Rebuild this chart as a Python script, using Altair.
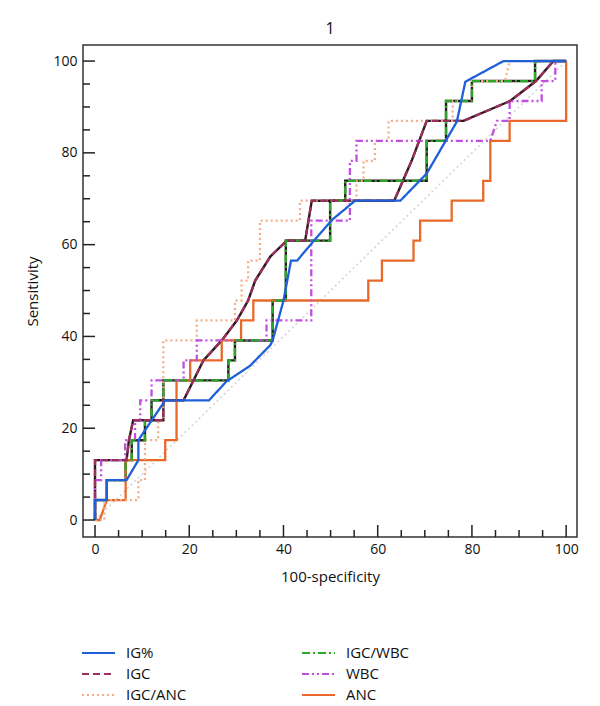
import altair as alt
import pandas as pd

# ---- data (percent) ----
series_names = ["IG%", "IGC", "IGC/ANC", "IGC/WBC", "WBC", "ANC"]
series_colors = ["#1f5fd8", "#9c2f5e", "#f2ae88", "#2aa82a", "#c04fe0", "#e8692a"]
series_dash = [[1, 0], [7, 4], [2, 3], [8, 3, 2, 3], [7, 3, 2, 3, 2, 3], [1, 0]]

ig_x = [0, 0, 2.5, 2.5, 6.7, 9.2, 9.2, 14.9, 24.2, 27.9, 32.9, 37.2, 37.7, 40.0, 40.8, 41.6, 42.9, 46.0, 50.3, 55.2, 64.8, 70.4, 76.8, 78.6, 86.7, 100]
ig_y = [0, 4.35, 4.35, 8.70, 8.70, 13.04, 17.39, 26.09, 26.09, 30.2, 33.6, 38.1, 39.13, 47.8, 52.17, 56.52, 56.52, 60.3, 65.4, 69.57, 69.57, 75.5, 86.8, 95.5, 100, 100]

igc_x = [0, 0, 6.7, 7.2, 8.1, 14.5, 14.5, 18.8, 23.0, 26.9, 30.1, 32.5, 34.0, 37.2, 40.7, 44.6, 45.3, 46.0, 63.5, 67.2, 70.4, 78.2, 88.1, 93.6, 97.3, 100]
igc_y = [0, 13.04, 13.04, 17.39, 21.74, 21.74, 26.09, 26.09, 34.78, 39.13, 43.48, 47.83, 52.17, 57.4, 60.87, 60.87, 65.22, 69.57, 69.57, 78.26, 86.96, 86.96, 91.3, 95.65, 100, 100]

ia_x = [0, 2.0, 2.0, 9.2, 9.2, 10.6, 10.6, 13.4, 13.4, 14.5, 14.5, 21.6, 21.6, 29.7, 29.7, 31.1, 31.1, 32.5, 32.5, 35.0, 35.0, 43.5, 43.5, 55.5, 55.5, 57.0, 57.0, 59.4, 59.4, 62.3, 62.3, 75.9, 75.9, 80.0, 80.0, 87.0, 88.0, 100]
ia_y = [0, 0, 4.35, 4.35, 8.70, 8.70, 17.39, 17.39, 21.74, 21.74, 39.13, 39.13, 43.48, 43.48, 47.83, 47.83, 52.17, 52.17, 56.52, 56.52, 65.22, 65.22, 69.57, 69.57, 73.91, 73.91, 78.26, 78.26, 82.61, 82.61, 86.96, 86.96, 91.3, 91.3, 95.65, 95.65, 100, 100]

iw_x = [0, 0, 2.5, 2.5, 6.5, 6.5, 7.8, 7.8, 10.6, 10.6, 12.0, 12.0, 14.5, 14.5, 28.3, 28.3, 29.7, 29.7, 37.7, 37.7, 40.5, 40.5, 49.9, 49.9, 53.1, 53.1, 70.4, 70.4, 74.5, 74.5, 80.0, 80.0, 93.4, 93.4, 100]
iw_y = [0, 4.35, 4.35, 8.70, 8.70, 13.04, 13.04, 17.39, 17.39, 21.74, 21.74, 26.09, 26.09, 30.43, 30.43, 34.78, 34.78, 39.13, 39.13, 47.83, 47.83, 60.87, 60.87, 69.57, 69.57, 73.91, 73.91, 82.61, 82.61, 91.3, 91.3, 95.65, 95.65, 100, 100]

wbc_x = [0, 0, 1.3, 1.3, 6.4, 6.4, 8.5, 8.5, 9.6, 9.6, 12.0, 12.0, 18.8, 18.8, 21.6, 21.6, 36.4, 36.4, 45.9, 45.9, 54.1, 54.1, 55.5, 55.5, 83.9, 85.3, 88.0, 88.0, 94.8, 94.8, 97.7, 97.7, 100]
wbc_y = [0, 8.70, 8.70, 13.04, 13.04, 17.39, 17.39, 21.74, 21.74, 26.09, 26.09, 30.43, 30.43, 34.78, 34.78, 39.13, 39.13, 43.48, 43.48, 65.22, 65.22, 78.26, 78.26, 82.61, 82.61, 86.96, 86.96, 91.3, 91.3, 95.65, 95.65, 100, 100]

anc_x = [0, 1.0, 2.5, 6.5, 6.5, 14.9, 14.9, 17.3, 17.3, 20.2, 20.2, 26.9, 26.9, 31.0, 31.0, 33.6, 33.6, 58.0, 58.0, 60.9, 60.9, 67.6, 67.6, 69.0, 69.0, 75.7, 75.7, 82.4, 82.4, 83.9, 83.9, 88.0, 88.0, 100, 100]
anc_y = [0, 0, 4.35, 4.35, 13.04, 13.04, 17.39, 17.39, 30.43, 30.43, 34.78, 34.78, 39.13, 39.13, 43.48, 43.48, 47.83, 47.83, 52.17, 52.17, 56.52, 56.52, 60.87, 60.87, 65.22, 65.22, 69.57, 69.57, 73.91, 73.91, 82.61, 82.61, 86.96, 86.96, 100]

diag_x = [0, 100]
diag_y = [0, 100]

major_ticks = [0, 20, 40, 60, 80, 100]
minor_ticks = [5, 10, 15, 25, 30, 35, 45, 50, 55, 65, 70, 75, 85, 90, 95]

# ---- build tables ----
draw_order = [("ANC", anc_x, anc_y), ("IGC/ANC", ia_x, ia_y), ("WBC", wbc_x, wbc_y),
              ("IGC/WBC", iw_x, iw_y), ("IGC", igc_x, igc_y), ("IG%", ig_x, ig_y)]
rows = []
for name, xs_, ys_ in draw_order:
    for i, (a, b) in enumerate(zip(xs_, ys_)):
        rows.append({"series": name, "x": a, "y": b, "i": i})
df = pd.DataFrame(rows)
diag_df = pd.DataFrame({"x": diag_x, "y": diag_y, "i": [0, 1]})
major_df = pd.DataFrame({"v": major_ticks})
minor_df = pd.DataFrame({"v": minor_ticks})

W, H = 494, 492
FONT = "Open Sans"
xs = alt.Scale(domain=[-2.55, 102.3], nice=False, zero=False)
ys = alt.Scale(domain=[-3.7, 103.5], nice=False, zero=False)

x_axis = alt.Axis(values=major_ticks, title="100-specificity", ticks=False, domain=False, grid=False,
                  labelFontSize=14, labelFont=FONT, labelColor="#111", labelPadding=5,
                  titleFontSize=15, titleFont=FONT, titleFontWeight="normal", titleColor="#111", titlePadding=13)
y_axis = alt.Axis(values=major_ticks, title="Sensitivity", ticks=False, domain=False, grid=False,
                  labelFontSize=14, labelFont=FONT, labelColor="#111", labelPadding=6,
                  titleFontSize=15, titleFont=FONT, titleFontWeight="normal", titleColor="#111", titlePadding=12)

diag = alt.Chart(diag_df).mark_line(color="#d2d2d2", strokeDash=[2, 3], strokeWidth=1.5).encode(
    x=alt.X("x:Q", scale=xs, axis=x_axis),
    y=alt.Y("y:Q", scale=ys, axis=y_axis),
    order="i:Q",
)

under = alt.Chart(df).transform_filter(
    alt.FieldOneOfPredicate(field="series", oneOf=["IGC", "IGC/WBC"])
).mark_line(color="#2a1a1e", strokeWidth=2.4).encode(
    x=alt.X("x:Q", scale=xs),
    y=alt.Y("y:Q", scale=ys),
    detail="series:N",
    order="i:Q",
)

legend = alt.Legend(orient="none", legendX=-2, legendY=597.5, columns=2, columnPadding=114,
                    rowPadding=0, clipHeight=21, symbolType="stroke", symbolSize=1089, symbolStrokeWidth=2,
                    labelFontSize=15, labelFont=FONT, labelColor="#111", labelOffset=10,
                    title=None, padding=0)

lines = alt.Chart(df).mark_line(strokeWidth=2.3).encode(
    x=alt.X("x:Q", scale=xs),
    y=alt.Y("y:Q", scale=ys),
    color=alt.Color("series:N", scale=alt.Scale(domain=series_names, range=series_colors), legend=legend),
    strokeDash=alt.StrokeDash("series:N", scale=alt.Scale(domain=series_names, range=series_dash), legend=legend),
    order="i:Q",
)

major_x = alt.Chart(major_df).mark_rule(color="#222", strokeWidth=1.5).encode(
    x=alt.X("v:Q", scale=xs), y=alt.value(H), y2=alt.value(H - 12))
minor_x = alt.Chart(minor_df).mark_rule(color="#222", strokeWidth=1.5).encode(
    x=alt.X("v:Q", scale=xs), y=alt.value(H), y2=alt.value(H - 7))
major_y = alt.Chart(major_df).mark_rule(color="#222", strokeWidth=1.5).encode(
    y=alt.Y("v:Q", scale=ys), x=alt.value(0), x2=alt.value(12))
minor_y = alt.Chart(minor_df).mark_rule(color="#222", strokeWidth=1.5).encode(
    y=alt.Y("v:Q", scale=ys), x=alt.value(0), x2=alt.value(7))

chart = alt.layer(diag, under, lines, major_x, minor_x, major_y, minor_y).properties(
    width=W, height=H,
    title=alt.TitleParams("1", fontSize=16, font=FONT, fontWeight="normal", color="#111", offset=8, anchor="middle"),
    autosize=alt.AutoSizeParams(type="none"),
    padding={"left": 75, "top": 37, "right": 15, "bottom": 169},
).configure_view(stroke="#333", strokeWidth=1.5)

chart.save("out.html", embed_options={"renderer": "svg", "actions": False})
